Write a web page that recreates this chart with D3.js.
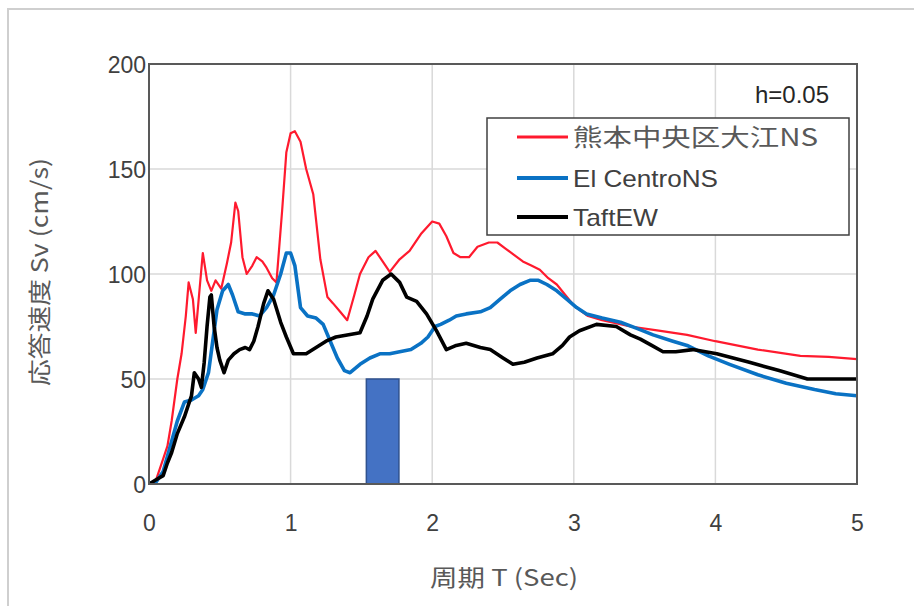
<!DOCTYPE html>
<html>
<head>
<meta charset="utf-8">
<script src="https://cdn.jsdelivr.net/npm/d3@7"></script>
<style>
  html, body { margin: 0; padding: 0; background: #fff; }
  svg { display: block; }
  text { font-family: "Liberation Sans", Arial, sans-serif; }
  .cjk { font-family: "Noto Sans CJK JP", "Noto Sans CJK SC", sans-serif; }
</style>
</head>
<body>
<svg id="chart" width="914" height="606"></svg>
<script>
// Velocity response spectra, damping h = 0.05
const seriesNames = ["熊本中央区大江NS", "El CentroNS", "TaftEW"];

const periodsKumamoto = [0, 0.05, 0.1, 0.13, 0.16, 0.2, 0.23, 0.26, 0.28, 0.31, 0.33, 0.36, 0.38, 0.41, 0.44, 0.47, 0.51, 0.55, 0.58, 0.61, 0.63, 0.66, 0.69, 0.73, 0.76, 0.8, 0.83, 0.87, 0.9, 0.94, 0.97, 1.0, 1.03, 1.07, 1.11, 1.16, 1.21, 1.26, 1.3, 1.35, 1.4, 1.45, 1.49, 1.55, 1.6, 1.65, 1.7, 1.77, 1.84, 1.92, 2.0, 2.05, 2.1, 2.15, 2.2, 2.26, 2.32, 2.4, 2.46, 2.52, 2.58, 2.64, 2.7, 2.76, 2.82, 2.88, 2.94, 3.0, 3.1, 3.2, 3.4, 3.6, 3.8, 4.0, 4.3, 4.6, 4.8, 5.0];
const svKumamoto = [0, 2, 12, 18, 30, 50, 62, 80, 96, 88, 72, 95, 110, 97, 92, 97, 93, 105, 115, 134, 130, 108, 100, 104, 108, 106, 103, 98, 96, 130, 158, 167, 168, 163, 150, 138, 107, 89, 86, 82, 78, 90, 100, 108, 111, 106, 101, 107, 111, 119, 125, 124, 118, 110, 108, 108, 113, 115, 115, 112, 109, 106, 104, 102, 98, 95, 90, 85, 80, 78, 75, 73, 71, 68, 64, 61, 60.5, 59.5];

const periodsElCentro = [0, 0.05, 0.1, 0.15, 0.2, 0.25, 0.3, 0.35, 0.38, 0.42, 0.45, 0.48, 0.52, 0.56, 0.59, 0.63, 0.68, 0.73, 0.78, 0.83, 0.88, 0.93, 0.97, 1.0, 1.03, 1.07, 1.12, 1.18, 1.23, 1.28, 1.33, 1.38, 1.42, 1.49, 1.56, 1.63, 1.7, 1.77, 1.85, 1.92, 1.97, 2.02, 2.06, 2.12, 2.17, 2.24, 2.34, 2.41, 2.48, 2.55, 2.62, 2.69, 2.75, 2.81, 2.88, 2.95, 3.02, 3.09, 3.2, 3.33, 3.45, 3.56, 3.7, 3.8, 3.95, 4.1, 4.3, 4.5, 4.7, 4.85, 5.0];
const svElCentro = [0, 1, 6, 18, 30, 39, 40, 42, 45, 53, 68, 83, 92, 95, 90, 82, 81, 81, 80, 84, 90, 100, 110, 110, 104, 84, 80, 79, 76, 68, 60, 54, 53, 57, 60, 62, 62, 63, 64, 67, 70, 75, 76, 78, 80, 81, 82, 84, 88, 92, 95, 97, 97, 95, 92, 88, 84, 81, 79, 77, 74, 71, 68, 66, 61, 57, 52, 48, 45, 43, 42];

const periodsTaft = [0, 0.05, 0.1, 0.13, 0.16, 0.2, 0.25, 0.28, 0.3, 0.32, 0.35, 0.37, 0.39, 0.41, 0.43, 0.44, 0.46, 0.48, 0.5, 0.53, 0.56, 0.6, 0.64, 0.68, 0.71, 0.74, 0.77, 0.81, 0.84, 0.88, 0.93, 0.97, 1.02, 1.11, 1.18, 1.25, 1.32, 1.4, 1.49, 1.54, 1.58, 1.65, 1.71, 1.77, 1.82, 1.89, 1.96, 2.03, 2.1, 2.17, 2.24, 2.34, 2.41, 2.5, 2.57, 2.65, 2.74, 2.85, 2.92, 2.97, 3.04, 3.16, 3.3, 3.4, 3.47, 3.55, 3.63, 3.72, 3.84, 4.01, 4.24, 4.45, 4.65, 4.8, 5.0];
const svTaft = [0, 2, 4, 10, 15, 24, 32, 38, 42, 53, 50, 46, 58, 75, 89, 90, 75, 65, 59, 53, 59, 62, 64, 65, 64, 68, 75, 86, 92, 88, 77, 70, 62, 62, 65, 68, 70, 71, 72, 80, 88, 97, 100, 96, 89, 87, 81, 73, 64, 66, 67, 65, 64, 60, 57, 58, 60, 62, 66, 70, 73, 76, 75, 71, 69, 66, 63, 63, 64, 62, 58, 54, 50, 50, 50];

// Single bar marker
const barPeriod = [1.65];
const barValue = [50];

const xTicks = [0, 1, 2, 3, 4, 5];
const yTicks = [0, 50, 100, 150, 200];

const colors = ["#ff1a2e", "#0a72c4", "#000000"];
const widths = [2.2, 3.6, 3.6];

const svg = d3.select("#chart");
const W = 914, H = 606;
const plot = { left: 149, right: 857, top: 64, bottom: 484 };

const x = d3.scaleLinear().domain([0, 5]).range([plot.left, plot.right]);
const y = d3.scaleLinear().domain([0, 200]).range([plot.bottom, plot.top]);

svg.append("rect").attr("width", W).attr("height", H).attr("fill", "#fff");

// outer chart frame
svg.append("rect")
  .attr("x", 8).attr("y", 9).attr("width", 1000).attr("height", 800)
  .attr("fill", "none").attr("stroke", "#cfcfcf").attr("stroke-width", 2);

// gridlines
svg.append("g").selectAll("line.h").data(yTicks.filter(d => d > 0 && d < 200)).join("line")
  .attr("x1", plot.left).attr("x2", plot.right)
  .attr("y1", d => y(d)).attr("y2", d => y(d))
  .attr("stroke", "#d9d9d9").attr("stroke-width", 1.5);
svg.append("g").selectAll("line.v").data(xTicks.filter(d => d > 0 && d < 5)).join("line")
  .attr("y1", plot.top).attr("y2", plot.bottom)
  .attr("x1", d => x(d)).attr("x2", d => x(d))
  .attr("stroke", "#d9d9d9").attr("stroke-width", 1.5);

// axes (labels only; frame drawn separately)
const xAxis = d3.axisBottom(x).tickValues(xTicks).tickFormat(d3.format("d")).tickSize(0).tickPadding(0);
const gx = svg.append("g").attr("transform", `translate(0,${plot.bottom})`).call(xAxis);
gx.select(".domain").remove();
gx.selectAll("text").attr("dy", null).attr("y", 47)
  .attr("font-size", 23).attr("fill", "#404040")
  .style("font-family", "'Liberation Sans', Arial, sans-serif");

const yAxis = d3.axisLeft(y).tickValues(yTicks).tickSize(0).tickPadding(0);
const gy = svg.append("g").attr("transform", `translate(${plot.left},0)`).call(yAxis);
gy.select(".domain").remove();
gy.selectAll("text").attr("x", -3).attr("dy", "0.36em")
  .attr("font-size", 23).attr("fill", "#404040")
  .style("font-family", "'Liberation Sans', Arial, sans-serif");

// bar
const barHalf = 0.115;
svg.append("g").selectAll("rect").data(barPeriod).join("rect")
  .attr("x", d => x(d - barHalf))
  .attr("width", d => x(d + barHalf) - x(d - barHalf))
  .attr("y", (d, i) => y(barValue[i]))
  .attr("height", (d, i) => y(0) - y(barValue[i]))
  .attr("fill", "#4472c4").attr("stroke", "#2f528f").attr("stroke-width", 1.5);

// series lines
const series = [
  { name: seriesNames[0], t: periodsKumamoto, v: svKumamoto },
  { name: seriesNames[1], t: periodsElCentro, v: svElCentro },
  { name: seriesNames[2], t: periodsTaft, v: svTaft }
];
const line = d3.line().x(d => x(d[0])).y(d => y(d[1]));
svg.append("defs").append("clipPath").attr("id", "plotclip")
  .append("rect").attr("x", plot.left).attr("y", plot.top)
  .attr("width", plot.right - plot.left).attr("height", plot.bottom - plot.top);
const lines = svg.append("g").attr("clip-path", "url(#plotclip)");
series.forEach((s, i) => {
  lines.append("path")
    .datum(s.t.map((t, k) => [t, s.v[k]]))
    .attr("d", line)
    .attr("fill", "none")
    .attr("stroke", colors[i])
    .attr("stroke-width", widths[i])
    .attr("stroke-linejoin", "round");
});

// plot frame
svg.append("rect")
  .attr("x", plot.left).attr("y", plot.top)
  .attr("width", plot.right - plot.left).attr("height", plot.bottom - plot.top)
  .attr("fill", "none").attr("stroke", "#595959").attr("stroke-width", 2);

// damping note
svg.append("text").attr("x", 829).attr("y", 103).attr("text-anchor", "end")
  .attr("font-size", 24).attr("fill", "#262626").text("h=0.05");

// legend
const lg = svg.append("g");
lg.append("rect").attr("x", 487).attr("y", 118).attr("width", 362).attr("height", 117)
  .attr("fill", "#fff").attr("stroke", "#404040").attr("stroke-width", 1.5);
const legendY = [137, 178, 217];
const legendLen = [245, 145, 85];
series.forEach((s, i) => {
  lg.append("line").attr("x1", 517).attr("x2", 568)
    .attr("y1", legendY[i]).attr("y2", legendY[i])
    .attr("stroke", colors[i]).attr("stroke-width", widths[i] + 0.6);
  lg.append("text").attr("x", 573).attr("y", legendY[i] + 9)
    .attr("class", i === 0 ? "cjk" : null)
    .attr("font-size", 24).attr("fill", i === 0 ? "#595959" : "#404040")
    .attr("textLength", legendLen[i]).attr("lengthAdjust", "spacingAndGlyphs")
    .text(s.name);
});

// axis titles
svg.append("text").attr("class", "cjk")
  .attr("x", 504).attr("y", 586).attr("text-anchor", "middle")
  .attr("font-size", 23).attr("fill", "#595959")
  .attr("textLength", 148).attr("lengthAdjust", "spacingAndGlyphs")
  .text("周期 T (Sec)");
svg.append("text").attr("class", "cjk")
  .attr("transform", "translate(48,272) rotate(-90)")
  .attr("text-anchor", "middle")
  .attr("font-size", 23).attr("fill", "#595959")
  .attr("textLength", 228).attr("lengthAdjust", "spacingAndGlyphs")
  .text("応答速度 Sv (cm/s)");
</script>
</body>
</html>
